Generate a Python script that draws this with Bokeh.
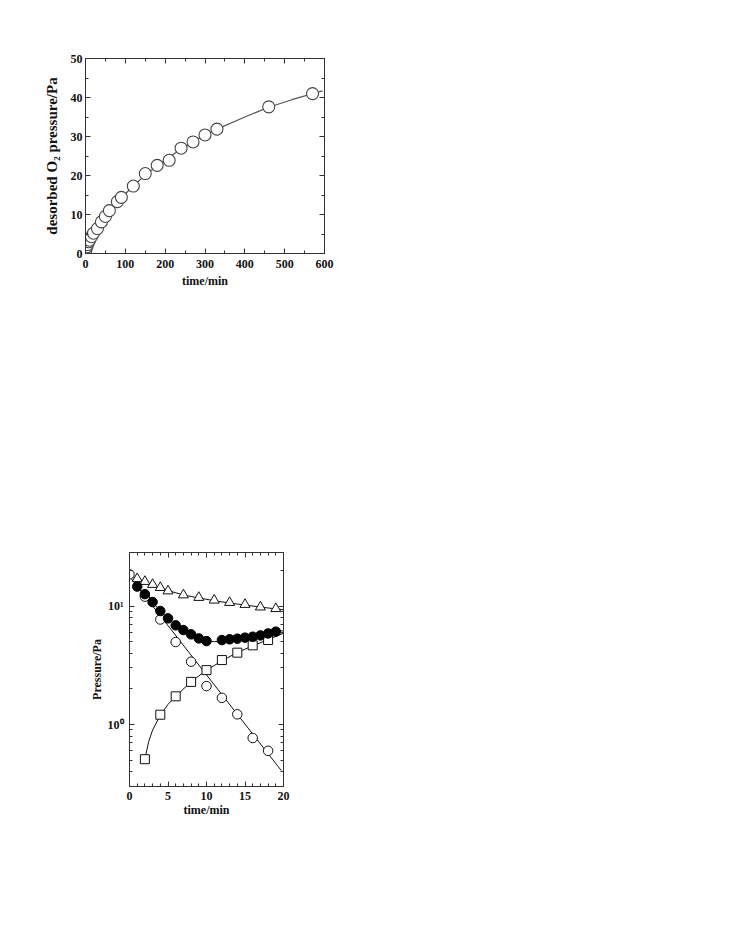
from bokeh.plotting import figure
from bokeh.models import LinearAxis, LogAxis, SingleIntervalTicker, FixedTicker, Range1d, Spacer
from bokeh.layouts import column, row
from bokeh.embed import file_html
from bokeh.resources import INLINE

# ---- top chart: desorbed O2 pressure vs time ----
des_time = [0, 1, 3, 5, 8, 10, 15, 20, 30, 40, 50, 60, 80, 90, 120, 150, 180, 210,
            240, 270, 300, 330, 460, 570]
des_pressure = [0.3, 0.9, 1.7, 2.3, 3.0, 3.4, 4.3, 5.2, 6.4, 8.1, 9.5, 11.0, 13.3, 14.4,
                17.3, 20.5, 22.6, 23.9, 27.0, 28.6, 30.4, 31.9, 37.6, 41.0]
des_fit_time = [0, 5, 10, 20, 40, 60, 90, 120, 150, 180, 210, 240, 270, 300, 330, 400, 460, 520, 595]
des_fit_pressure = [0, 2.0, 3.1, 5.0, 8.1, 10.9, 14.3, 17.3, 20.1, 22.5, 24.7, 26.8, 28.7,
                    30.4, 31.9, 35.0, 37.5, 39.5, 41.7]

# ---- bottom chart: pressures vs time (log) ----
open_c_time = [0, 2, 4, 6, 8, 10, 12, 14, 16, 18]
open_c_p = [18.5, 12.0, 7.7, 4.97, 3.39, 2.11, 1.68, 1.22, 0.77, 0.60]
open_c_fit_time = [0, 19.7]
open_c_fit_p = [17.8, 0.41]

square_time = [2, 4, 6, 8, 10, 12, 14, 16, 18]
square_p = [0.51, 1.21, 1.73, 2.29, 2.88, 3.50, 4.04, 4.66, 5.17]
square_fit_time = [2.1, 2.5, 3, 4, 5, 6, 8, 10, 12, 14, 16, 18, 20]
square_fit_p = [0.55, 0.72, 0.90, 1.20, 1.48, 1.73, 2.30, 2.87, 3.45, 4.05, 4.62, 5.2, 5.9]

tri_time = [1, 2, 3, 4, 5, 7, 9, 11, 13, 15, 17, 19]
tri_p = [17.0, 16.1, 15.2, 14.3, 13.4, 12.4, 11.8, 11.2, 10.7, 10.3, 9.8, 9.5]
tri_fit_time = [0, 1, 2, 3, 4, 5, 7, 9, 11, 13, 15, 17, 20]
tri_fit_p = [18.2, 17.0, 16.0, 15.1, 14.3, 13.5, 12.4, 11.7, 11.1, 10.6, 10.2, 9.8, 9.3]

fill_time = [1, 2, 3, 4, 5, 6, 7, 8, 9, 10, 12, 13, 14, 15, 16, 17, 18, 19]
fill_p = [14.6, 12.6, 10.8, 9.08, 7.87, 6.87, 6.27, 5.77, 5.33, 5.06, 5.16, 5.24, 5.30,
          5.41, 5.51, 5.65, 5.87, 6.08]
fill_fit_time = [1, 2, 3, 4, 5, 6, 7, 8, 9, 10, 11, 12, 13, 14, 15, 16, 17, 18, 20]
fill_fit_p = [14.6, 12.5, 10.7, 9.1, 7.9, 6.9, 6.2, 5.7, 5.35, 5.1, 5.0, 5.05, 5.15, 5.25,
              5.4, 5.5, 5.65, 5.85, 6.2]

FONT = "Liberation Serif"
AX = "#333333"


def style_axis(ax, tick_size="12px", label_size="11px"):
    ax.axis_line_color = AX
    ax.major_tick_line_color = AX
    ax.minor_tick_line_color = AX
    ax.major_tick_in = 5
    ax.major_tick_out = 0
    ax.minor_tick_in = 3
    ax.minor_tick_out = 0
    ax.major_label_text_font = FONT
    ax.major_label_text_font_style = "bold"
    ax.major_label_text_font_size = tick_size
    ax.major_label_text_color = "#111111"
    ax.axis_label_text_font = FONT
    ax.axis_label_text_font_style = "bold"
    ax.axis_label_text_font_size = label_size
    ax.axis_label_text_color = "#111111"


def hide_labels(ax):
    ax.major_label_text_alpha = 0
    ax.major_label_text_font_size = "2px"
    ax.major_label_standoff = 0


# ---------------- top figure ----------------
p1 = figure(x_range=Range1d(0, 600), y_range=Range1d(0, 50),
            width=344, height=298,
            min_border_left=85, min_border_top=58, min_border_right=20, min_border_bottom=45,
            output_backend="svg", toolbar_location=None)
p1.grid.visible = False
p1.outline_line_color = AX
p1.xaxis.ticker = SingleIntervalTicker(interval=100, num_minor_ticks=2)
p1.yaxis.ticker = SingleIntervalTicker(interval=10, num_minor_ticks=2)
p1.xaxis.axis_label = "time/min"
p1.yaxis.axis_label = "desorbed O\u2082 pressure/Pa"
style_axis(p1.xaxis[0], label_size="12px")
style_axis(p1.yaxis[0], label_size="15px")
p1.xaxis.major_label_standoff = 6
p1.xaxis.axis_label_standoff = 3
p1.yaxis.major_label_standoff = 3
p1.yaxis.axis_label_standoff = 8

r_ax = LinearAxis(ticker=SingleIntervalTicker(interval=10, num_minor_ticks=2))
t_ax = LinearAxis(ticker=SingleIntervalTicker(interval=100, num_minor_ticks=2))
for a in (r_ax, t_ax):
    style_axis(a)
    hide_labels(a)
p1.add_layout(r_ax, "right")
p1.add_layout(t_ax, "above")

p1.line(des_fit_time, des_fit_pressure, line_color="#555555", line_width=1.2)
p1.scatter(des_time, des_pressure, marker="circle", size=12, fill_color="white",
           line_color="#444444", line_width=1.1)

# ---------------- bottom figure ----------------
p2 = figure(x_range=Range1d(0, 20), y_range=Range1d(0.3, 28.3), y_axis_type="log",
            width=259, height=528,
            min_border_left=85, min_border_top=254, min_border_right=20, min_border_bottom=40,
            output_backend="svg", toolbar_location=None)
p2.grid.visible = False
p2.outline_line_color = AX
p2.xaxis.ticker = SingleIntervalTicker(interval=5, num_minor_ticks=5)
minor_log = [0.3, 0.4, 0.5, 0.6, 0.7, 0.8, 0.9, 2, 3, 4, 5, 6, 7, 8, 9, 20]
p2.yaxis.ticker = FixedTicker(ticks=[1, 10], minor_ticks=minor_log)
p2.yaxis.major_label_overrides = {1: "10\u2070", 10: "10\u00b9"}
p2.xaxis.axis_label = "time/min"
p2.yaxis.axis_label = "Pressure/Pa"
style_axis(p2.xaxis[0], label_size="12px")
style_axis(p2.yaxis[0], label_size="12px")
p2.xaxis.major_label_standoff = 5
p2.xaxis.axis_label_standoff = 0
p2.yaxis.major_label_standoff = 6
p2.yaxis.axis_label_standoff = 1

r2 = LogAxis(ticker=FixedTicker(ticks=[1, 10], minor_ticks=minor_log))
t2 = LinearAxis(ticker=SingleIntervalTicker(interval=5, num_minor_ticks=5))
for a in (r2, t2):
    style_axis(a)
    hide_labels(a)
p2.add_layout(r2, "right")
p2.add_layout(t2, "above")

LC = "#111111"
p2.line(tri_fit_time, tri_fit_p, line_color=LC, line_width=1)
p2.line(fill_fit_time, fill_fit_p, line_color=LC, line_width=1)
p2.line(open_c_fit_time, open_c_fit_p, line_color=LC, line_width=1)
p2.line(square_fit_time, square_fit_p, line_color=LC, line_width=1)

p2.scatter(tri_time, tri_p, marker="triangle", size=10, fill_color="white",
           line_color=LC, line_width=1)
p2.scatter(square_time, square_p, marker="square", size=9, fill_color="white",
           line_color=LC, line_width=1)
p2.scatter(open_c_time, open_c_p, marker="circle", size=9.5, fill_color="white",
           line_color=LC, line_width=1)
p2.scatter(fill_time, fill_p, marker="circle", size=9.5, fill_color="black",
           line_color="black", line_width=1)

layout = column(p1, row(Spacer(width=44, height=528), p2))
open("out.html", "w").write(file_html(layout, INLINE))
